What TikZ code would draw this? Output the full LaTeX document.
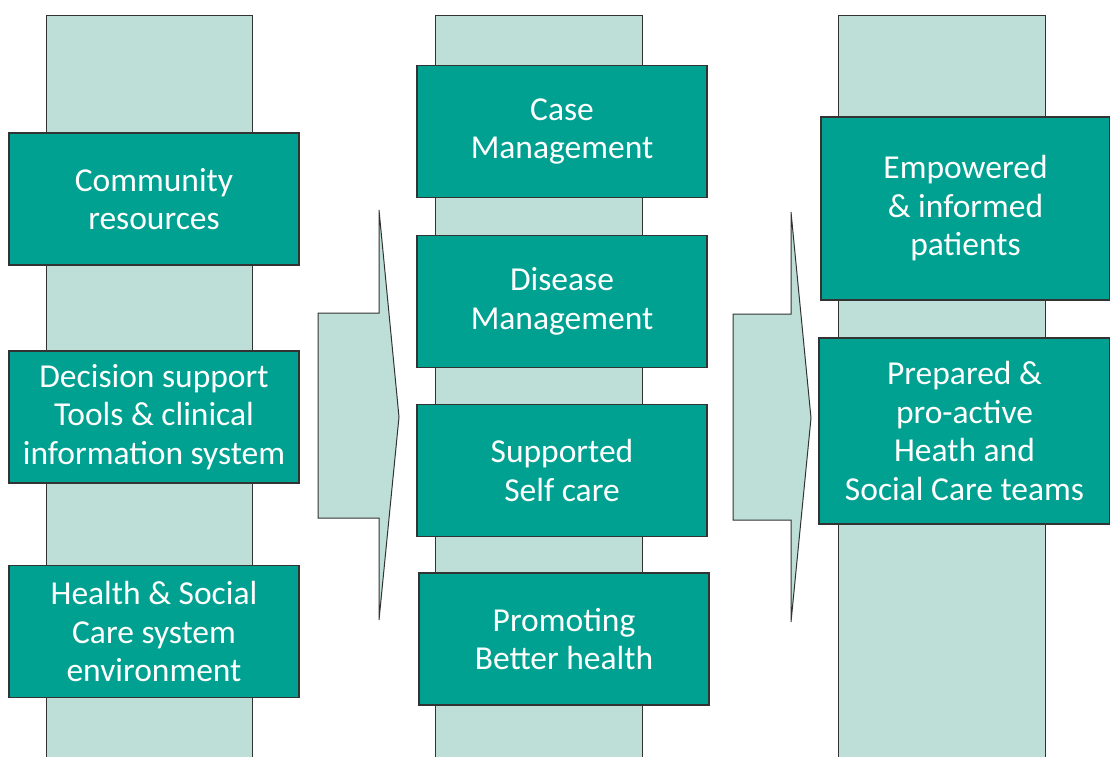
\documentclass[tikz,border=0pt]{standalone}
\usepackage{fontspec}
\setmainfont{Carlito}
\usetikzlibrary{positioning}
\definecolor{boxteal}{HTML}{00A191}
\definecolor{barmint}{HTML}{BEDFD8}
\definecolor{edgegray}{HTML}{333333}

\begin{document}
\begin{tikzpicture}[x=1pt, y=-1pt,
  every node/.style={align=center, font=\fontsize{33.5}{38.5}\selectfont, text=white},
  stage/.style={draw=edgegray, line width=1.2pt, fill=boxteal, minimum width=290pt, minimum height=132pt, inner sep=0pt},
  bar/.style={draw=edgegray, line width=1pt, fill=barmint},
  blockarrow/.style={draw=edgegray, line width=1pt, fill=barmint, line join=miter}]
\useasboundingbox (0,0) rectangle (1110,756);
% background bars
\draw[bar] (46,760) -- (46,15) -- (252,15) -- (252,760);
\draw[bar] (435,760) -- (435,15) -- (642,15) -- (642,760);
\draw[bar] (838,760) -- (838,15) -- (1045,15) -- (1045,760);
% block arrows
\draw[blockarrow] (379,210) -- (399,417) -- (379,620) -- (379,518) -- (318,518) -- (318,313) -- (379,313) -- cycle;
\draw[blockarrow] (791,212) -- (811,418) -- (791,622) -- (791,520) -- (733,520) -- (733,314) -- (791,314) -- cycle;
% left column
\node[stage] (community) at (154,199) {Community\\resources};
\node[stage] (decision) at (154,417) {Decision support\\Tools \& clinical\\information system};
\node[stage] (system) at (154,631.5) {Health \& Social\\Care system\\environment};
% middle column
\node[stage] (casemgmt) at (562,131.5) {Case\\Management};
\node[stage] (diseasemgmt) at (562,301.5) {Disease\\Management};
\node[stage] (selfcare) at (562,470.5) {Supported\\Self care};
\node[stage] (promoting) at (564,639) {Promoting\\Better health};
% right column
\node[stage, minimum width=289pt, minimum height=183pt] (patients) at (965.5,208.5) {Empowered\\\& informed\\patients};
\node[stage, minimum width=291pt, minimum height=186pt] (teams) at (964.5,431) {Prepared \&\\pro-active\\Heath and\\Social Care teams};
\end{tikzpicture}
\end{document}
